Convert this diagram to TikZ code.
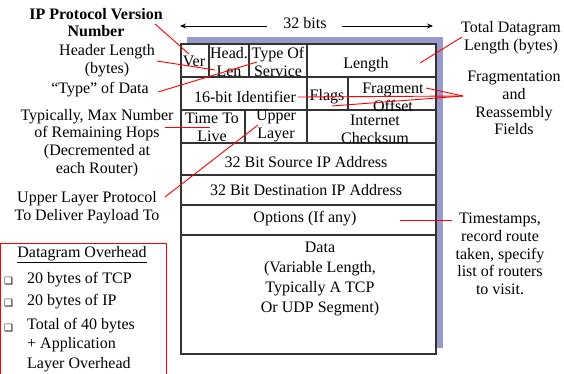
\documentclass[tikz,border=0pt]{standalone}
\usepackage{fontspec}
\setmainfont{Liberation Serif}
\newfontfamily\symfont{DejaVu Sans}
\usetikzlibrary{arrows.meta}
\definecolor{shadowc}{RGB}{153,153,204}
\definecolor{gridc}{RGB}{51,51,51}
\newcommand\txtsize{\fontsize{16}{17.8}\selectfont}
\newcommand\boxbullet{{\symfont\fontsize{10}{10}\selectfont ❑}}
\begin{document}
\begin{tikzpicture}[x=1pt,y=-1pt,
  cell/.style={font=\txtsize, align=center, inner sep=0pt, text=black},
  label/.style={font=\txtsize, align=center, inner sep=0pt, text=black},
  gridline/.style={draw=gridc, line width=1.3pt},
  pointer/.style={draw=red, line width=0.9pt},
  widtharrow/.style={draw=black, line width=0.9pt, -{Stealth[length=6pt,width=5pt]}}]
\useasboundingbox (0,0) rectangle (564,374);

% header frame with its drop shadow
\fill[shadowc] (187,37) rectangle (443,348);
\fill[white] (181,44) rectangle (436,354);
\draw[gridline] (181,44) rectangle (436,354);
\foreach \yy in {77,110,143,175,205,235}
  \draw[gridline] (181,\yy) -- (436,\yy);
\draw[gridline] (209,44) -- (209,77);
\draw[gridline] (249,44) -- (249,77);
\draw[gridline] (307,44) -- (307,143);
\draw[gridline] (348,77) -- (348,110);
\draw[gridline] (245,110) -- (245,143);

% width marker
\node[label] (bits) at (305,23) {32 bits};
\coordinate (bitsL) at (180,26);
\coordinate (bitsR) at (433,26);
\draw[widtharrow] (267,26) -- (bitsL);
\draw[widtharrow] (342,26) -- (bitsR);

% field cells
\node[cell] (ver) at (194,61) {Ver};
\node[cell] (head) at (229,62) {Head.\\Len};
\node[cell] (tos) at (278,62) {Type Of\\Service};
\node[cell] (len) at (366,65) {Length};
\node[cell] (ident) at (245,97) {16-bit Identifier};
\node[cell] (flags) at (327,97) {Flags};
\node[cell] (frag) at (393,97) {Fragment\\Offset};
\node[cell] (ttl) at (212,127) {Time To\\Live};
\node[cell] (proto) at (276,126) {Upper\\Layer};
\node[cell] (csum) at (375,129) {Internet\\Checksum};
\node[cell] (src) at (306,162) {32 Bit Source IP Address};
\node[cell] (dst) at (306,190) {32 Bit Destination IP Address};
\node[cell] (opts) at (305,219) {Options (If any)};
\node[cell, font=\fontsize{16}{20}\selectfont] (data) at (320,279)
  {Data\\(Variable Length,\\Typically A TCP\\Or UDP Segment)};

% side annotations
\node[label, font=\bfseries\fontsize{16}{17}\selectfont] (lab-ver) at (96,23) {IP Protocol Version\\Number};
\node[label] (lab-hlen) at (107,61) {Header Length\\(bytes)};
\node[label] (lab-tos) at (100,90) {“Type” of Data};
\node[label] (lab-ttl) at (97,143) {Typically, Max Number\\of Remaining Hops\\(Decremented at\\each Router)};
\node[label] (lab-proto) at (87,208) {Upper Layer Protocol\\To Deliver Payload To};
\node[label] (lab-len) at (511,38) {Total Datagram\\Length (bytes)};
\node[label] (lab-frag) at (514,103) {Fragmentation\\and\\Reassembly\\Fields};
\node[label] (lab-opts) at (500,254) {Timestamps,\\record route\\taken, specify\\list of routers\\to visit.};

% pointer ends
\coordinate (a-ver) at (155,24);   \coordinate (t-ver) at (189,54);
\coordinate (a-hlen) at (157,61);  \coordinate (t-hlen) at (215,70);
\coordinate (a-tos) at (158,92);   \coordinate (t-tos) at (257,62);
\coordinate (a-ttl) at (165,127);  \coordinate (t-ttl) at (210,127);
\coordinate (a-proto) at (165,197); \coordinate (t-proto) at (258,125);
\coordinate (a-len) at (462,37);   \coordinate (t-len) at (420,63);
\coordinate (a-frag) at (463,96);
\coordinate (t-frag) at (426,88);
\coordinate (t-ident) at (298,97);
\coordinate (t-flags) at (332,106);
\coordinate (a-opts) at (452,220); \coordinate (t-opts) at (400,220);

\draw[pointer] (a-ver) -- (t-ver);
\draw[pointer] (a-hlen) -- (t-hlen);
\draw[pointer] (a-tos) -- (t-tos);
\draw[pointer] (a-ttl) -- (t-ttl);
\draw[pointer] (a-proto) -- (t-proto);
\draw[pointer] (a-len) -- (t-len);
\draw[pointer] (a-frag) -- (t-frag);
\draw[pointer] (a-frag) -- (t-ident);
\draw[pointer] (a-frag) -- (t-flags);
\draw[pointer] (a-opts) -- (t-opts);

% overhead summary box
\begin{scope}
\clip (0,0) rectangle (564,374);
\draw[red, line width=0.9pt] (0.8,243) rectangle (166,390);
\end{scope}
\node[label] (ovh) at (82,255) {\underline{Datagram Overhead}};
\node[label, anchor=west] (b1) at (4,281) {\boxbullet};
\node[label, anchor=west] (i1) at (27,280) {20 bytes of TCP};
\node[label, anchor=west] (b2) at (4,303) {\boxbullet};
\node[label, anchor=west] (i2) at (27,302) {20 bytes of IP};
\node[label, anchor=west] (b3) at (4,328) {\boxbullet};
\node[label, align=left, font=\fontsize{16}{19.5}\selectfont, anchor=north west] (i3) at (27,318)
  {Total of 40 bytes\\+ Application\\Layer Overhead};
\end{tikzpicture}
\end{document}
